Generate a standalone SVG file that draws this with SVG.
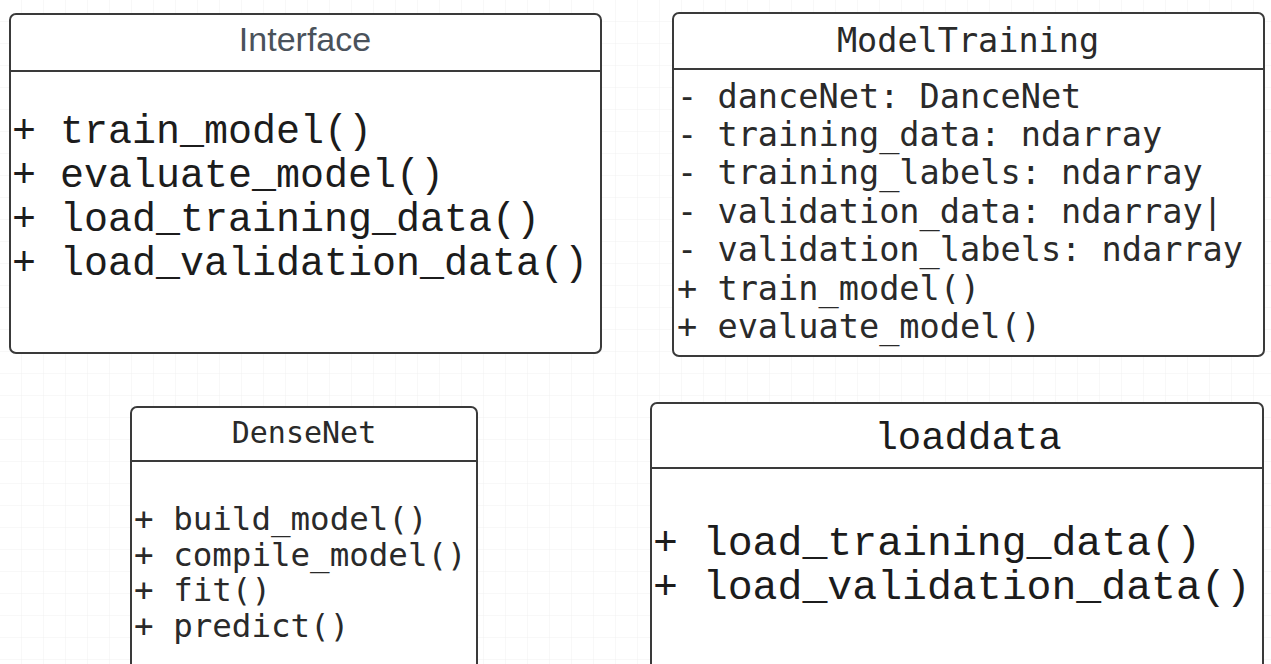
<svg xmlns="http://www.w3.org/2000/svg" width="1271" height="664" viewBox="0 0 1271 664">
  <defs>
    <pattern id="grid" width="22" height="22" patternUnits="userSpaceOnUse">
      <path d="M22 0V22M0 22H22" fill="none" stroke="#f0f0f0" stroke-width="1"/>
    </pattern>
    <style>
      .box { fill: #ffffff; stroke: #3a3a3a; stroke-width: 2; }
      .sep { stroke: #3a3a3a; stroke-width: 2; }
      .title-sans { font-family: "Liberation Sans", Arial, sans-serif; fill: #4a525b; }
      .mono-thin { font-family: "Liberation Mono", "Courier New", monospace; fill: #1c1c1c; }
      .mono { font-family: "DejaVu Sans Mono", "Liberation Mono", monospace; fill: #2a2a2a; }
    </style>
  </defs>

  <rect width="1271" height="664" fill="#ffffff"/>
  <rect width="1271" height="664" fill="url(#grid)"/>

  <!-- Interface class -->
  <g id="interface">
    <rect class="box" x="10" y="14" width="591" height="339" rx="6"/>
    <line class="sep" x1="10" y1="71" x2="601" y2="71"/>
    <text class="title-sans" x="305" y="51" font-size="34" text-anchor="middle">Interface</text>
    <g class="mono-thin" font-size="40">
      <text x="12" y="143">+ train_model()</text>
      <text x="12" y="187">+ evaluate_model()</text>
      <text x="12" y="231">+ load_training_data()</text>
      <text x="12" y="275">+ load_validation_data()</text>
    </g>
  </g>

  <!-- ModelTraining class -->
  <g id="model-training">
    <rect class="box" x="673" y="13" width="591" height="343" rx="6"/>
    <line class="sep" x1="673" y1="69" x2="1264" y2="69"/>
    <text class="mono" x="968" y="52" font-size="33.5" text-anchor="middle">ModelTraining</text>
    <g class="mono" font-size="33.6">
      <text x="677" y="108">- danceNet: DanceNet</text>
      <text x="677" y="146">- training_data: ndarray</text>
      <text x="677" y="184">- training_labels: ndarray</text>
      <text x="677" y="223">- validation_data: ndarray|</text>
      <text x="677" y="261">- validation_labels: ndarray</text>
      <text x="677" y="300">+ train_model()</text>
      <text x="677" y="338">+ evaluate_model()</text>
    </g>
  </g>

  <!-- DenseNet class -->
  <g id="densenet">
    <rect class="box" x="131" y="407" width="346" height="280" rx="6"/>
    <line class="sep" x1="131" y1="461" x2="477" y2="461"/>
    <text class="mono" x="304" y="443" font-size="30" text-anchor="middle">DenseNet</text>
    <g class="mono" font-size="32.5">
      <text x="134" y="530">+ build_model()</text>
      <text x="134" y="566">+ compile_model()</text>
      <text x="134" y="601">+ fit()</text>
      <text x="134" y="637">+ predict()</text>
    </g>
  </g>

  <!-- loaddata class -->
  <g id="loaddata">
    <rect class="box" x="651" y="403" width="612" height="280" rx="6"/>
    <line class="sep" x1="651" y1="468" x2="1263" y2="468"/>
    <text class="mono-thin" x="968" y="449" font-size="39" text-anchor="middle">loaddata</text>
    <g class="mono-thin" font-size="41.5">
      <text x="653" y="555">+ load_training_data()</text>
      <text x="653" y="599">+ load_validation_data()</text>
    </g>
  </g>

  <!-- no connectors between classes -->
  <g id="connectors"/>
</svg>
